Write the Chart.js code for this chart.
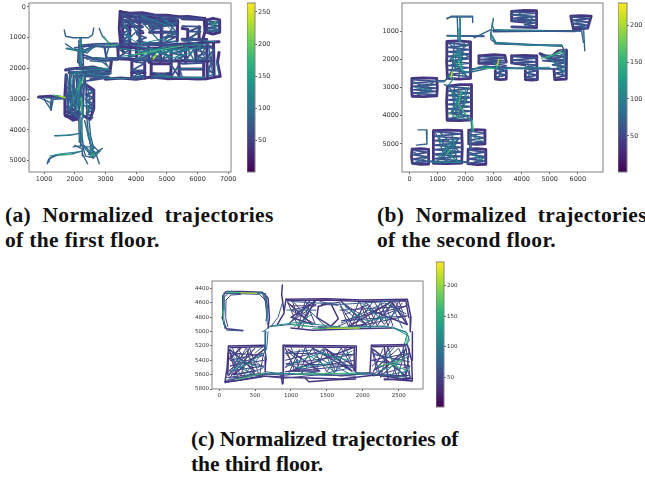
<!DOCTYPE html>
<html>
<head>
<meta charset="utf-8">
<title>Normalized trajectories</title>
<script src="https://cdn.jsdelivr.net/npm/chart.js@4"></script>
<style>
  html, body { margin: 0; padding: 0; background: #fff; }
  body { width: 645px; height: 483px; position: relative; overflow: hidden; }
  canvas { position: absolute; filter: blur(0.45px); }
  .cap { position: absolute; font: bold 21.5px "Liberation Serif", serif; color: #111; white-space: pre; line-height: 25px; }
</style>
</head>
<body>
<script>
// ─── Tick labels ─────────────────────────────────────────
const floor1XTicks = [1000, 2000, 3000, 4000, 5000, 6000, 7000];
const floor1YTicks = [0, 1000, 2000, 3000, 4000, 5000];
const floor1BarTicks = [50, 100, 150, 200, 250];
const floor2XTicks = [0, 1000, 2000, 3000, 4000, 5000, 6000];
const floor2YTicks = [1000, 2000, 3000, 4000, 5000];
const floor2BarTicks = [50, 100, 150, 200];
const floor3XTicks = [0, 500, 1000, 1500, 2000, 2500];
const floor3YTicks = [4400, 4600, 4800, 5000, 5200, 5400, 5600, 5800];
const floor3BarTicks = [50, 100, 150, 200];

// ─── Trajectories: x,y,x,y,... ───────────────────────────
const floor1Dark = [
  [3480,150, 3800,200, 4200,190, 4600,260, 5000,270, 5400,320, 5700,310, 6220,370, 6240,800, 6150,1150],
  [3480,150, 3450,700, 3500,1250, 3600,1500],
  [3560,300, 4500,340, 5350,430, 5340,1100],
  [3560,300, 3560,1250], [3790,250, 3790,1250], [4120,250, 4120,1150], [4820,320, 4820,1180],
  [3550,470, 5360,500], [3560,620, 4200,640], [4440,620, 5340,580], [4440,820, 5340,820], [4030,840, 4220,840],
  [3500,1200, 4300,1200, 5000,1240, 6150,1170],
  [5500,1050, 6300,1060], [5500,700, 5680,720, 5680,1040], [6050,640, 6050,1040], [5500,380, 6200,410],
  [6300,420, 6500,370, 6720,420, 6720,820, 6500,880, 6300,820, 6300,420],
  [6000,1180, 6300,1150, 6700,1130],
  [6700,1480, 6650,1800, 6740,2250, 6300,2330],
  [3000,2350, 3500,2310, 4000,2350, 4500,2280, 5000,2330, 5500,2320, 6000,2340, 6300,2330],
  [3400,1300, 4500,1340, 5500,1310, 6500,1300], [3400,1680, 4400,1720, 5150,1760, 6500,1760],
  [3400,1250, 3420,1680], [3800,1250, 3790,1700], [4000,1300, 4020,1780], [4400,1300, 4420,1800], [4800,1300, 4790,1800],
  [5150,1250, 5130,2300], [5600,1250, 5610,1780], [5950,1250, 5950,1780], [6300,1200, 6320,2320], [6520,1150, 6540,2250],
  [3860,1750, 3860,2320], [4280,1800, 4280,2320], [4490,1800, 4490,2300], [5400,1780, 5400,2320],
  [3860,2130, 4280,2130], [4490,2180, 5130,2180], [4490,1850, 5130,1850], [5400,2020, 6200,2020], [6200,1780, 6200,2320],
  [1700,2050, 2000,2000, 2600,1950, 3150,2100, 3200,1700, 3400,1680],
  [1720,2200, 1680,2900, 1680,3500, 1950,3680, 2100,3620],
  [2300,3550, 2500,3650, 2620,3300, 2620,2700, 2400,2550],
  [1700,3400, 2150,3500, 1700,3550, 2100,3650, 1750,3250, 2100,3400],
  [820,2930, 1200,2900, 1700,2950]
];
const floor1Mesh = [
  [3520,250, 3820,350, 3520,450, 3830,550, 3520,650, 3830,750, 3520,850, 3830,950, 3520,1050, 3830,1150, 3520,1250],
  [4030,300, 4220,420, 4030,520, 4220,640, 4030,700, 4220,780, 4030,900, 4330,1000, 4030,1100, 4320,1160],
  [4230,260, 4500,520, 4750,280, 5000,520, 5250,330, 5340,520], [3850,260, 4030,420, 3850,560, 4030,660],
  [3500,220, 4400,260, 5200,340, 6180,390], [3850,400, 5340,400, 4200,450, 5340,550], [4240,560, 5340,520, 4450,700, 4870,700],
  [4450,650, 4850,600, 4450,780, 4870,840, 4800,1150, 4890,790, 5340,850, 4850,1000, 5340,950, 4860,1180, 5350,1100],
  [3400,1230, 6150,1230], [4400,1170, 4800,1170], [5490,1050, 6280,1090], [5500,620, 6100,640, 5700,800, 6100,800, 5690,1030, 6150,1040],
  [6320,450, 6700,500, 6320,560, 6700,620, 6320,680, 6700,740, 6320,800],
  [3420,1350, 3800,1370, 3420,1640, 3800,1660], [4020,1350, 4400,1430, 4020,1520, 4400,1610, 4020,1700, 4400,1760],
  [4420,1350, 4800,1440, 4420,1530, 4800,1620, 4420,1710, 4800,1780], [4800,1330, 5150,1420, 4800,1510, 5150,1600, 4800,1690, 5150,1790],
  [5150,1330, 5600,1420, 5150,1500, 5600,1580, 5380,1660, 5620,1750], [5600,1320, 5780,1500, 5620,1700, 5780,1750],
  [5860,1300, 5950,1760, 6320,1700, 5960,1600, 6320,1500, 5960,1400, 6320,1280], [6320,1200, 6540,1400, 6330,1600, 6540,1800, 6330,2000, 6540,2200],
  [3830,2280, 4280,2230, 3850,2340, 4280,2310], [3860,1760, 4290,1830, 3860,2060, 4280,2060], [4490,2240, 5130,2290, 4490,2320, 5130,2240],
  [5400,1820, 5520,1850, 6200,1820], [5130,1880, 5430,2300, 5140,2280, 5400,1880], [5480,2290, 6220,2300],
  [1720,2200, 1780,3500, 1840,2200, 1900,3550, 1960,2150, 2020,3600, 2080,2150, 2140,3600, 2200,2150, 2260,3550, 2320,2200, 2370,2600, 2400,3550],
  [2380,2650, 2620,2750, 2360,2850, 2620,2950, 2380,3050, 2620,3150, 2380,3250, 2620,3350, 2380,3450, 2580,3600],
  [1800,2150, 3100,2150, 2300,2250, 3100,2260, 2500,2350], [1720,2020, 3100,2030],
  [1800,2000, 3150,2060, 1800,2120, 3150,2180, 2000,2240, 3150,2300, 2400,2400],
  [2150,1250, 2700,1200, 3400,1180], [2000,1330, 2500,1260, 3000,1290, 3440,1300], [2950,1280, 3050,1660], [2980,1300, 3020,1680],
  [2250,1450, 2600,1280], [2250,1550, 2550,1650, 3400,1720], [2300,1650, 2950,1750, 3200,1750], [2100,1400, 2260,1350, 2280,1900, 2100,1800, 2120,1450]
];
const floor1Blue = [
  [1660,750, 1700,950, 1950,1000, 2200,1000, 2450,1000, 2580,900, 2620,680],
  [2170,1000, 2170,1500, 2180,2000], [2210,1000, 2200,1600, 2220,1950], [2130,1100, 2150,1900],
  [1700,1200, 2000,1400, 2300,1470, 2700,1280, 3050,1320, 3450,1250], [2250,1430, 2700,1240, 3400,1220], [2000,1370, 2400,1500, 2600,1300],
  [2650,1650, 3000,1680, 3100,1350], [2400,1700, 2600,1650, 2950,1700, 3050,1900], [2500,1750, 2900,1780, 3100,1950],
  [1720,1350, 2200,1450], [2800,700, 2900,950, 3150,1200], [3100,1650, 3420,1650],
  [1800,2100, 2700,2250, 2900,2320, 3800,2330], [2100,2300, 2700,2100, 3200,2150],
  [1750,2200, 1850,2800, 1750,3300, 2050,3550], [1900,2150, 1800,2900, 1950,3500], [2050,2100, 1900,3000, 2100,3600],
  [2200,2100, 2000,2900, 2200,3500], [2350,2200, 2150,3000, 2300,3600], [2400,2500, 2500,3100, 2400,3600],
  [2600,2700, 2350,3000, 2600,3300, 2300,3200], [1700,2900, 2300,2500, 1800,3300, 2200,3100, 1750,2600],
  [2170,3500, 2180,4100, 2200,4550], [2230,3600, 2240,4200, 2280,4550], [2130,3650, 2150,4400], [2400,3650, 2450,4200, 2550,4650], [2320,3700, 2500,4400, 2600,4700], [2460,3650, 2520,4200, 2620,4600],
  [1950,4550, 2300,4500, 2600,4800, 2900,4600], [2200,4450, 2600,4900, 2350,4850, 2250,4500], [2500,4450, 2800,4700, 2600,4920], [2350,4550, 2650,4550, 2450,4800, 2650,4700, 2480,4880],
  [2250,4780, 2420,5100], [2800,5100, 2700,4800, 2500,4600], [2240,4600, 2250,4850], [2000,4500, 2200,4600],
  [1300,2870, 1700,2950], [1000,3000, 1230,3350], [1250,2950, 1230,3350], [900,2970, 1200,3100, 1230,3350, 1300,3000, 1700,2990], [1000,2950, 1650,2970],
  [1100,5100, 1150,4950, 1400,4820, 1900,4780, 2250,4680], [1350,4190, 1800,4170, 2120,4120], [1150,5050, 1200,4900, 1500,4800],
  [3550,300, 3750,800, 3600,1200, 4100,700, 3750,400, 4200,1100], [4150,300, 4800,700, 4200,500, 4790,1150, 4150,1200],
  [4850,350, 5300,800, 4900,1100, 5300,500, 4850,600], [5500,1100, 6200,1250, 5700,1120, 6100,700],
  [3450,1400, 3950,1600, 3460,1680], [4050,1350, 4350,1700, 4050,1700, 4380,1350], [4450,1350, 4750,1700, 4750,1350, 4450,1700],
  [4850,1300, 5100,1750, 5120,1300, 4850,1700], [5180,1300, 5580,1600, 5200,1760, 5600,1350], [5640,1300, 5900,1750, 5650,1700, 5920,1300],
  [6000,1250, 6280,1700, 6000,1700, 6280,1300], [6350,1200, 6500,2200, 6350,2250, 6500,1400],
  [5450,2100, 5500,2280, 6150,2300], [3900,2050, 4250,2280, 3900,2270, 4250,2050], [4550,2130, 5100,2280, 4550,2280, 5100,2120],
  [6350,450, 6680,800, 6340,780, 6680,450]
];
const floor1Teal = [
  [3500,1350, 4200,1450, 5000,1300, 5800,1250, 6300,1200],
  [3550,1600, 4300,1500, 5100,1450, 5700,1300],
  [3950,1250, 4600,1380, 5300,1500, 6100,1280],
  [1900,2200, 2300,2050, 2900,2030, 3150,2050], [1850,2450, 2200,2150], [2000,3000, 2200,2300, 2050,3400],
  [2300,2200, 1950,3100, 2250,3500], [2220,2900, 2250,3650], [2350,3100, 2500,3400], [1850,2300, 1950,2900, 1850,3300], [2100,2400, 2150,3200],
  [2190,1050, 2190,1900], [1750,1330, 2150,1430, 2500,1380], [2200,3700, 2220,4400], [2480,4100, 2570,4700], [2350,3750, 2450,4300],
  [1180,4850, 1500,4780, 2200,4700], [1430,4190, 2000,4150], [2300,4560, 2600,4850, 2850,4680], [2420,4650, 2600,4880, 2520,4650],
  [3050,2330, 3700,2320], [4700,2230, 5500,2300, 6250,2280], [5200,2020, 6150,2000], [2350,1950, 3100,2000], [2400,2150, 3000,2250],
  [6450,450, 6550,800, 6650,500], [6200,1100, 6600,1130], [6620,1800, 6700,2200],
  [4200,300, 5000,600, 5300,900], [3600,900, 4100,1200, 4800,1050, 5350,1150], [4900,400, 5250,620], [3560,500, 3800,1000],
  [3950,1700, 4600,1450, 5200,1650, 5900,1450], [4500,1400, 5500,1380, 6200,1330]
];
const floor1Green = [
  [1300,2880, 1500,2900, 1690,2950], [2210,2950, 2230,3400], [1450,4815, 1900,4800],
  [2950,950, 3120,1180], [3950,1550, 4500,1450, 5050,1340, 5500,1270], [3050,1260, 3400,1230],
  [2270,2350, 2080,2700], [4550,1650, 4650,1530], [2500,4850, 2620,4750], [6500,600, 6600,450]
];
const floor1Yellow = [[4560,1700, 4650,1570], [1500,2890, 1680,2950]];

const floor2Dark = [
  [1330,1370, 1750,1350, 2160,1380, 2180,2000, 2170,2680, 1750,2700, 1350,2680, 1320,2000, 1330,1370],
  [80,2680, 500,2660, 970,2680, 990,3000, 970,3300, 500,3320, 90,3310, 70,3000, 80,2680],
  [1350,2950, 1800,2900, 2200,2900, 2220,3500, 2200,4150, 1800,4170, 1340,4160, 1320,3500, 1350,2950],
  [860,4530, 1350,4510, 1860,4530, 1880,5100, 1860,5680, 1350,5700, 850,5690, 840,5100, 860,4530],
  [90,5180, 400,5170, 680,5190, 680,5710, 400,5720, 100,5690, 70,5450, 90,5180],
  [2110,4510, 2400,4490, 2680,4510, 2690,5000, 2400,5010, 2110,5000, 2110,4510],
  [2090,5180, 2400,5170, 2710,5190, 2720,5720, 2400,5730, 2080,5700, 2090,5180],
  [2470,1880, 3000,1840, 3400,1860, 3450,2100], [2480,1880, 2470,2140, 3050,2150],
  [3060,2400, 3060,2700, 3250,2720, 3450,2700, 3450,2400],
  [3650,1880, 4100,1860, 4530,1880, 4540,2300], [3650,1880, 3640,2130, 4120,2200],
  [4130,2400, 4130,2720, 4350,2740, 4560,2720, 4560,2400],
  [4650,1800, 5000,1950, 5300,1700, 5600,1680, 5590,2700, 5180,2720, 5150,2350],
  [3650,300, 4100,270, 4530,280, 4530,880, 3650,850], [3650,300, 3640,640, 4100,680],
  [5750,470, 6100,450, 6480,470, 6350,900, 5850,950, 5750,470]
];
const floor2Mesh = [
  [1370,1420, 2140,1500, 1370,1580, 2140,1660, 1370,1740, 2140,1820, 1370,1900, 2140,1980, 1370,2060, 2140,2140, 1370,2220, 2140,2300, 1370,2380, 2140,2460, 1370,2540, 2140,2620],
  [100,2720, 950,2780, 100,2840, 950,2900, 100,2960, 950,3020, 100,3080, 950,3140, 100,3200, 950,3260],
  [1370,2960, 2180,3040, 1370,3120, 2180,3200, 1370,3280, 2180,3360, 1370,3440, 2180,3520, 1370,3600, 2180,3680, 1370,3760, 2180,3840, 1370,3920, 2180,4000, 1370,4100, 2180,4130],
  [880,4560, 1840,4640, 880,4720, 1840,4800, 880,4880, 1840,4960, 880,5040, 1840,5120, 880,5200, 1840,5280, 880,5360, 1840,5440, 880,5520, 1840,5600, 880,5670],
  [110,5220, 660,5300, 110,5380, 660,5460, 110,5540, 660,5620, 110,5680],
  [2130,4540, 2670,4620, 2130,4700, 2670,4780, 2130,4860, 2670,4940, 2130,4980],
  [2100,5210, 2700,5290, 2100,5370, 2700,5450, 2100,5530, 2700,5610, 2100,5690],
  [2480,1900, 3400,1950, 2480,2010, 3400,2050, 2480,2110, 3400,2130],
  [3060,2150, 3450,2230, 3060,2320, 3450,2400, 3060,2480, 3450,2560, 3060,2640],
  [3650,1900, 4530,1960, 3650,2030, 4530,2090, 3650,2140, 4530,2210, 4120,2290, 4530,2300],
  [4130,2320, 4560,2400, 4130,2480, 4560,2560, 4130,2640, 4560,2700],
  [4700,1850, 5590,1900, 5000,1980, 5590,2030, 4750,2050, 5590,2120, 5100,2200, 5590,2260, 5180,2340, 5590,2420, 5180,2500, 5590,2580, 5180,2660],
  [3650,310, 4530,370, 3650,430, 4530,490, 3650,550, 4530,610, 3650,630, 4100,670, 4530,700, 4100,760, 4530,830, 3700,860],
  [5760,500, 6470,560, 5780,620, 6420,680, 5800,740, 6380,800, 5830,860, 6340,890],
  [1340,1160, 2650,1190], [2950,980, 5900,1010], [3000,1020, 4500,1000, 6100,990], [3050,1450, 5450,1530], [2450,2290, 5150,2340], [2200,2350, 3000,2260, 3600,2300]
];
const floor2Blue = [
  [1330,570, 1500,470, 2250,470, 2250,700], [1800,480, 1800,1370], [1700,480, 1730,1350], [1340,540, 1500,500, 2200,500],
  [1340,1170, 2650,1170], [6200,800, 6250,1700], [6130,950, 6200,1400], [2300,1240, 2900,950],
  [2990,550, 2950,800, 3000,950, 3300,970, 4500,980, 5700,1000, 6100,1000], [2900,1030, 2900,1300, 3100,1440, 5400,1530],
  [300,4500, 600,4500, 620,5000, 250,5040], [640,5630, 2100,5630], [2190,4150, 2230,4500], [2190,4500, 2200,5200], [2150,4600, 2150,5200], [680,5600, 2100,5660],
  [980,2800, 1230,2800, 1400,2600, 1500,2400], [1240,2900, 1400,2950], [1000,2760, 1250,2760, 1380,2650],
  [1400,1450, 2100,1900, 1500,2200, 2050,2600, 1450,2000, 2100,1450], [1600,1400, 1500,2650], [1950,1400, 1750,2650],
  [1400,3000, 1900,3500, 1450,3900, 2100,3300, 1700,4100, 1500,3100], [2100,3000, 1800,3900, 2150,4100], [1600,2950, 1550,4100],
  [900,4600, 1400,5200, 950,5650, 1750,4800, 1300,5650, 1000,4700], [1500,4600, 1700,5650], [1100,4600, 1800,5300, 950,5400],
  [150,5300, 600,5500, 200,5650], [2150,5300, 2650,5500, 2300,5650], [2200,4650, 2600,4800],
  [2200,2450, 3000,2280, 3700,2330, 5200,2330], [2200,2380, 2700,2230, 3100,2300],
  [3150,2000, 3250,2500, 3150,2650], [4200,2100, 4300,2500, 4200,2650], [4700,1900, 5200,2100, 5450,2500, 5300,1900, 5500,1800],
  [2900,1120, 3050,1400, 4500,1480, 5420,1490, 5530,1700, 5480,2100], [3600,420, 4400,500, 4100,850],
  [150,2800, 800,3100, 300,3250, 850,2800], [5850,600, 6300,900], [3900,350, 4350,700]
];
const floor2Teal = [
  [1800,480, 1820,1000, 1810,1370], [1760,900, 1770,1370], [1400,1180, 1800,1160], [2950,700, 2900,1100, 3100,1420, 4500,1510, 5450,1510],
  [3100,960, 4800,980], [1500,2000, 1750,1700, 1850,2400, 2150,2450], [1400,2650, 1700,2200, 1800,1700, 1900,2600], [1800,1500, 1600,2100, 2000,2500],
  [1500,3100, 1800,3700, 2150,4150], [1750,3000, 1650,3800, 1950,4100], [2000,3000, 1950,3700], [1400,2900, 1600,2650], [1500,3800, 1900,3200],
  [1000,4700, 1450,5400, 1750,5650], [1200,5200, 1600,4800, 1450,5600], [800,5640, 1800,5660], [2200,4100, 2240,4500], [1000,5500, 1500,5000],
  [2200,2400, 2600,2250, 3100,2340], [3450,2340, 4100,2300, 5000,2280], [4900,1950, 5300,1800, 5500,1750], [5100,2050, 5400,2400],
  [2300,5400, 2650,5600], [3000,2100, 3200,2400], [2300,4750, 2600,4900], [200,3000, 700,3100], [5550,1650, 5500,2500]
];
const floor2Green = [
  [1480,2700, 1530,2430], [1850,3100, 1750,3600, 2000,3950], [4700,1970, 5100,1850, 5450,1690], [2240,4150, 2280,4550],
  [2550,2320, 3000,2330], [3180,2100, 3100,2280], [1750,2050, 1880,2400], [1300,5400, 1450,5200], [1400,3900, 1800,4100]
];
const floor2Yellow = [[1480,2620, 1520,2450], [3180,2000, 3130,2200]];

const floor3Dark = [
  [330,4985, 100,4960, 40,4800, 50,4500, 100,4440, 300,4440, 600,4450, 680,4530, 700,4800, 680,4950],
  [930,4550, 1500,4540, 2000,4560, 2620,4550, 2670,4800, 2660,5000], [930,4550, 900,4750, 810,4900],
  [1000,4950, 1300,4980, 1900,4960, 2400,4950], [950,4570, 1500,4560, 2000,4580, 2600,4570, 2640,4800],
  [130,5200, 630,5190, 650,5350, 640,5560], [130,5200, 110,5500, 80,5710, 600,5620, 1000,5640, 1700,5660, 2200,5600, 2680,5680],
  [150,5220, 610,5210], [130,5300, 120,5600], [920,5210, 1890,5220], [1880,5220, 1880,5550],
  [900,5190, 1910,5200, 1900,5560], [900,5190, 890,5720], [2120,5190, 2620,5180, 2680,5400, 2690,5690, 2300,5660], [2120,5190, 2100,5560], [2140,5210, 2600,5200],
  [1380,4650, 1360,4800, 1550,4920], [1380,4650, 1550,4600, 1660,4820, 1560,4920],
  [880,4350, 870,4480, 900,4700], [860,5600, 880,5730], [1200,5650, 1250,5700, 1620,5670, 1900,5660],
  [2690,5000, 2690,5400], [600,5630, 260,5680, 90,5700], [2300,5670, 2680,5650],
  [960,4600, 1300,4900, 1000,4800, 1340,4570, 1100,4950], [1700,4580, 2050,4900, 1800,4930, 2400,4580, 2620,4900, 2100,4700],
  [150,5250, 500,5550, 200,5600, 620,5250], [120,5400, 300,5230], [960,5250, 1400,5550, 1000,5550, 1850,5230], [1300,5230, 1850,5550, 1500,5250],
  [2150,5250, 2600,5620, 2200,5600, 2600,5250], [2300,5220, 2350,5650]
];
const floor3Mesh = [
  [950,4580, 1100,4930, 1200,4570, 1340,4900, 1000,4700, 1350,4620, 980,4880, 1320,4580, 1150,4950],
  [1680,4600, 1800,4930, 1950,4570, 2100,4930, 2250,4580, 2350,4920, 2500,4570, 2620,4900, 2400,4600, 2200,4920, 2050,4590, 1850,4900, 1700,4650],
  [1680,4700, 2600,4650, 1700,4850, 2620,4780, 1950,4920, 2640,4620], [1000,4640, 1350,4640], [1600,4950, 2350,4620],
  [1020,4570, 1080,4780, 1260,4570, 1200,4780, 1050,4600], [1400,4580, 1660,4630, 1420,4620, 1680,4590], [1380,4930, 1650,4940, 1400,4960, 1680,4930],
  [1720,4600, 2000,4780, 2150,4570, 2280,4780, 2450,4580, 2560,4780], [1750,4760, 2080,4620, 2300,4900, 2550,4600], [1900,4920, 2000,4640, 2150,4900, 2320,4640, 2420,4920],
  [130,5230, 300,5620, 420,5220, 560,5620, 620,5300, 150,5400, 620,5480, 130,5550, 500,5230, 140,5650, 600,5600],
  [140,5300, 620,5330, 150,5480, 620,5400], [250,5220, 500,5620, 380,5220, 170,5600], [130,5240, 220,5500, 130,5620, 300,5300, 150,5340, 260,5640],
  [920,5230, 1060,5560, 1200,5220, 1340,5560, 1480,5220, 1620,5560, 1760,5220, 1880,5540, 1700,5230, 1500,5560, 1300,5230, 1100,5560, 930,5300],
  [920,5300, 1880,5320, 930,5450, 1880,5470, 920,5560, 1880,5400], [920,5400, 1500,5250, 1880,5480], [920,5250, 1100,5400, 920,5500, 1120,5250, 960,5600],
  [2130,5230, 2250,5640, 2350,5210, 2480,5650, 2600,5220, 2660,5640, 2500,5230, 2150,5540, 2650,5300, 2120,5400, 2660,5480, 2150,5620],
  [2150,5320, 2650,5420], [2130,5480, 2400,5220], [2130,5260, 2200,5560, 2130,5600, 2280,5240], [2560,5220, 2600,5640, 2650,5240],
  [100,5640, 600,5580, 900,5610, 1300,5570, 1700,5620, 2100,5570, 2300,5630, 2650,5610], [120,5680, 500,5610, 900,5650, 1400,5600, 1900,5620],
  [80,4960, 60,4800, 70,4520, 120,4470, 300,4470, 560,4480, 640,4560, 670,4800], [120,4930, 90,4800, 95,4560, 160,4490, 300,4480],
  [650,4500, 680,4700, 650,4850], [600,4460, 660,4620, 640,4520]
];
const floor3Blue = [
  [70,4450, 60,4900], [90,4470, 650,4470], [640,4480, 670,4900], [100,4980, 320,4990],
  [700,4930, 1000,4900, 1500,4950, 2300,4920, 2600,5000, 2650,5120, 2580,5190],
  [650,4990, 640,5300, 660,5400], [620,5200, 500,5300], [720,4930, 820,4800, 880,4600], [680,5000, 660,5250], [600,5000, 640,4980, 720,4920],
  [960,4900, 1200,4650, 1500,4950], [1680,4650, 2100,4950, 2400,4620, 2550,4950], [1700,4880, 2300,4600, 2600,4750], [940,4700, 1350,4700],
  [120,5600, 400,5350, 620,5500, 300,5650], [180,5220, 350,5600, 600,5300], [450,5210, 200,5450, 550,5640],
  [920,5300, 1350,5250, 1850,5500, 1400,5600, 930,5450], [1000,5220, 1150,5580, 1450,5230, 1600,5580, 1880,5300], [1150,5250, 1800,5580],
  [2140,5300, 2500,5400, 2250,5620, 2650,5550], [2450,5200, 2200,5500, 2650,5350], [2580,5200, 2400,5640],
  [100,5680, 500,5600, 900,5590, 1500,5610, 2100,5590, 2650,5640],
  [650,5560, 880,5590], [1900,5570, 2120,5580], [1000,4580, 1700,4620, 2500,4570], [640,5600, 900,5570], [1900,5590, 2150,5590]
];
const floor3Teal = [
  [60,4500, 50,4750, 80,4940], [110,4450, 600,4460, 660,4560], [660,4600, 680,4850], [60,4480, 70,4700],
  [720,4920, 1100,4870, 1700,4940, 2350,4930], [2400,4930, 2620,5020, 2580,5170], [2450,4960, 2640,5060, 2620,5180],
  [1750,4650, 2050,4850, 2350,4800], [1050,4930, 1300,4750], [2000,4620, 2300,4850, 2500,4700],
  [160,5550, 400,5450, 600,5300], [300,5400, 550,5500], [200,5350, 450,5600],
  [1000,5450, 1400,5300, 1800,5400], [1100,5500, 1500,5450, 1850,5270], [1200,5300, 1600,5550],
  [2200,5560, 2500,5450, 2620,5300], [2350,5300, 2550,5600], [700,5580, 1300,5590, 2000,5580], [2500,5640, 2650,5500]
];
const floor3Green = [
  [110,4450, 300,4455], [55,4700, 60,4850], [1300,4955, 1950,4950], [650,5570, 250,5670], [1050,5590, 1900,5580],
  [2230,5480, 2550,5400], [2600,5000, 2620,5170], [1000,4900, 1250,4930], [2400,5450, 2600,5540]
];
const floor3Yellow = [[300,4458, 520,4465], [1500,4952, 1950,4950]];

// ─── Captions ────────────────────────────────────────────
const captionA = ['(a)  Normalized  trajectories', 'of the first floor.'];
const captionB = ['(b)  Normalized  trajectories', 'of the second floor.'];
const captionC = ['(c) Normalized trajectories of', 'the third floor.'];

const VIRIDIS = ['#440154', '#482878', '#3e4989', '#31688e', '#26828e', '#1f9e89', '#35b779', '#6ece58', '#b5de2b', '#fde725'];

const framePlugin = {
  id: 'frame',
  afterDraw(chart) {
    const a = chart.chartArea, c = chart.ctx;
    c.save();
    c.strokeStyle = '#808080';
    c.lineWidth = 1;
    c.strokeRect(a.left, a.top, a.width, a.height);
    c.restore();
  }
};

function addCanvas(left, top, w, h) {
  const cv = document.createElement('canvas');
  cv.width = w;
  cv.height = h;
  cv.style.left = left + 'px';
  cv.style.top = top + 'px';
  cv.style.width = w + 'px';
  cv.style.height = h + 'px';
  document.body.appendChild(cv);
  return cv;
}

function axis(min, max, tickVals, fontSize, fit, extra) {
  return Object.assign({
    min, max,
    afterBuildTicks: s => { s.ticks = tickVals.map(v => ({ value: v })); },
    afterFit: fit,
    grid: { drawOnChartArea: false, drawTicks: true, tickLength: 2, color: '#666' },
    border: { display: false },
    ticks: { color: '#333', font: { size: fontSize, family: 'DejaVu Sans' }, padding: 1, maxRotation: 0, autoSkip: false, callback: v => String(v) }
  }, extra || {});
}

function pathDatasets(groups) {
  const out = [];
  groups.forEach(([paths, color, width]) => {
    paths.forEach(p => {
      const pts = [];
      for (let i = 0; i < p.length; i += 2) pts.push({ x: p[i], y: p[i + 1] });
      out.push({ data: pts, borderColor: color, borderWidth: width, showLine: true, pointRadius: 0, fill: false, tension: 0,
        borderJoinStyle: 'round', borderCapStyle: 'round', order: -out.length });
    });
  });
  return out;
}

function floorChart(box, xr, yr, xt, yt, fontSize, groups) {
  const pad = 24;
  const w = box.right - box.left + 2 * pad, h = box.bottom - box.top + 2 * pad;
  const cv = addCanvas(box.left - pad, box.top - pad, w, h);
  new Chart(cv, {
    type: 'scatter',
    data: { datasets: pathDatasets(groups) },
    options: {
      responsive: false, animation: false,
      layout: { padding: { top: pad, right: pad, left: 0, bottom: 0 } },
      plugins: { legend: { display: false }, tooltip: { enabled: false } },
      scales: {
        x: axis(xr[0], xr[1], xt, fontSize, s => { s.height = pad; }),
        y: axis(yr[0], yr[1], yt, fontSize, s => { s.width = pad; }, { reverse: true })
      }
    },
    plugins: [framePlugin]
  });
}

function colorBar(box, range, ticks, fontSize) {
  const padR = 28, padV = 6;
  const w = box.right - box.left + padR, h = box.bottom - box.top + 2 * padV;
  const cv = addCanvas(box.left, box.top - padV, w, h);
  new Chart(cv, {
    type: 'bar',
    data: {
      labels: ['count'],
      datasets: [{
        data: [[range[0], range[1]]],
        barPercentage: 1, categoryPercentage: 1, borderSkipped: false, borderWidth: 0,
        backgroundColor: ctx => {
          const a = ctx.chart.chartArea;
          if (!a) return VIRIDIS[4];
          const g = ctx.chart.ctx.createLinearGradient(0, a.bottom, 0, a.top);
          VIRIDIS.forEach((c, i) => g.addColorStop(i / (VIRIDIS.length - 1), c));
          return g;
        }
      }]
    },
    options: {
      responsive: false, animation: false,
      layout: { padding: { top: padV, bottom: padV, left: 0, right: 0 } },
      plugins: { legend: { display: false }, tooltip: { enabled: false } },
      scales: {
        x: { display: false },
        y: axis(range[0], range[1], ticks, fontSize, s => { s.width = padR; }, { position: 'right' })
      }
    },
    plugins: [framePlugin]
  });
}

function caption(lines, left, top, spacing) {
  lines.forEach((text, i) => {
    const d = document.createElement('div');
    d.className = 'cap';
    d.textContent = text;
    d.style.left = left + 'px';
    d.style.top = (top + i * 25) + 'px';
    d.style.letterSpacing = spacing + 'px';
    document.body.appendChild(d);
  });
}

floorChart({ left: 29, right: 231, top: 3, bottom: 172 }, [510, 7090], [-130, 5367], floor1XTicks, floor1YTicks, 6.5, [
  [floor1Dark, '#453581', 3], [floor1Mesh, '#3b4f8b', 1.8], [floor1Blue, '#34628d', 1.4], [floor1Teal, '#23888e', 1], [floor1Green, '#3dbc74', 1.1], [floor1Yellow, '#d8e219', 1.2]
]);
colorBar({ left: 247, right: 255, top: 3, bottom: 172 }, [1, 264], floor1BarTicks, 6.5);

floorChart({ left: 402, right: 603, top: 3, bottom: 172 }, [-270, 6900], [6, 5994], floor2XTicks, floor2YTicks, 6.5, [
  [floor2Dark, '#453581', 2.8], [floor2Mesh, '#3b4f8b', 1.7], [floor2Blue, '#34628d', 1.4], [floor2Teal, '#23888e', 1.1], [floor2Green, '#3dbc74', 1.1], [floor2Yellow, '#d8e219', 1.2]
]);
colorBar({ left: 618, right: 627, top: 3, bottom: 172 }, [1, 230], floor2BarTicks, 6.5);

floorChart({ left: 212, right: 423, top: 281, bottom: 389 }, [-100, 2838], [4294, 5800], floor3XTicks, floor3YTicks, 5.5, [
  [floor3Dark, '#453581', 1.5], [floor3Mesh, '#433e85', 1], [floor3Blue, '#34628d', 1], [floor3Teal, '#23888e', 1], [floor3Green, '#3dbc74', 1], [floor3Yellow, '#d8e219', 1]
]);
colorBar({ left: 436, right: 444, top: 262, bottom: 407 }, [1, 239], floor3BarTicks, 5.5);

caption(captionA, 5, 203, 0.33);
caption(captionB, 377, 203, 0.33);
caption(captionC, 191, 427, -0.1);
</script>
</body>
</html>
